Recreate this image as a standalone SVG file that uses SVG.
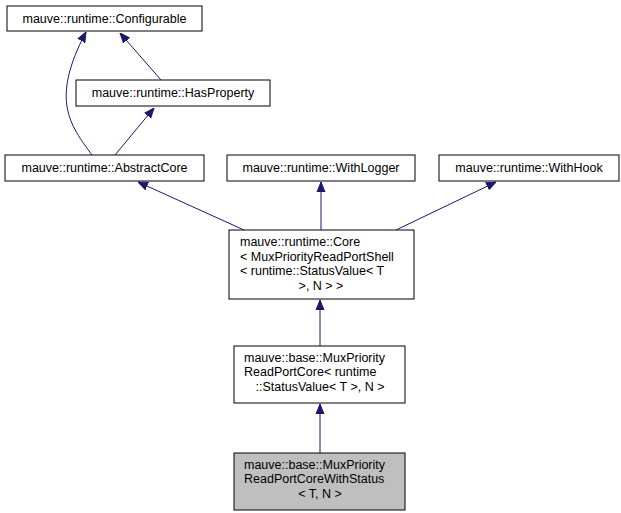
<svg xmlns="http://www.w3.org/2000/svg" width="621" height="513" viewBox="0 0 621 513">
<defs>
<marker id="a" viewBox="0 0 10 10" refX="10" refY="5" markerWidth="10" markerHeight="10" markerUnits="userSpaceOnUse" orient="auto"><path d="M0,1 L10,5 L0,9 Z" fill="#191970" stroke="#191970"/></marker>
</defs>
<style>
rect{fill:#fff;stroke:#000;stroke-width:1}
text{font-family:"Liberation Sans",Arial,sans-serif;font-size:12.5px;fill:#000}
.c{text-anchor:middle}
.e{fill:none;stroke:#191970;stroke-width:1;marker-end:url(#a)}
</style>
<rect width="621" height="513" style="fill:#fff;stroke:none"/>
<g id="n1"><rect x="7" y="6" width="195" height="25"/><text x="104.5" y="23" class="c">mauve::runtime::Configurable</text></g>
<g id="n2"><rect x="76" y="80" width="194" height="26"/><text x="173" y="97" class="c">mauve::runtime::HasProperty</text></g>
<g id="n3"><rect x="5" y="155" width="199" height="26"/><text x="104.5" y="172" class="c">mauve::runtime::AbstractCore</text></g>
<g id="n4"><rect x="227" y="155" width="188" height="26"/><text x="321" y="172" class="c">mauve::runtime::WithLogger</text></g>
<g id="n5"><rect x="439" y="155" width="180" height="26"/><text x="529" y="172" class="c">mauve::runtime::WithHook</text></g>
<g id="n6"><rect x="229" y="230" width="185" height="69"/><text x="240" y="246">mauve::runtime::Core</text><text x="240" y="261">&lt; MuxPriorityReadPortShell</text><text x="240" y="275">&lt; runtime::StatusValue&lt; T</text><text x="321" y="290" class="c">&gt;, N &gt; &gt;</text></g>
<g id="n7"><rect x="234" y="346" width="171" height="57"/><text x="244" y="362">mauve::base::MuxPriority</text><text x="244" y="376">ReadPortCore&lt; runtime</text><text x="320" y="391" class="c">::StatusValue&lt; T &gt;, N &gt;</text></g>
<g id="n8"><rect x="234" y="453" width="171" height="57" style="fill:#bfbfbf"/><text x="244" y="469">mauve::base::MuxPriority</text><text x="244" y="483">ReadPortCoreWithStatus</text><text x="320" y="498" class="c">&lt; T, N &gt;</text></g>
<g id="edges">
<path class="e" d="M92,155 C70,125 50,100 86,32"/>
<path class="e" d="M161,80 L120,33"/>
<path class="e" d="M115,155 L154,108"/>
<path class="e" d="M244,230 L138,182"/>
<path class="e" d="M321,230 L321,182"/>
<path class="e" d="M396,230 L496,182"/>
<path class="e" d="M320,346 L320,300"/>
<path class="e" d="M320,453 L320,404"/>
</g>
</svg>
